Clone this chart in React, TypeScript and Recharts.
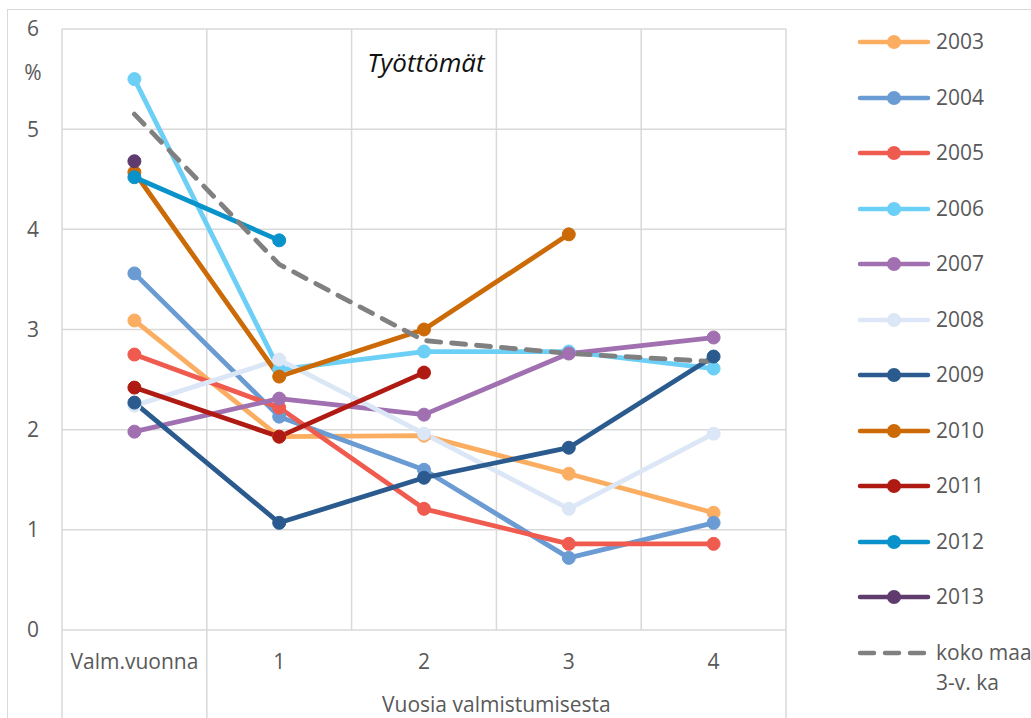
import React from "react";
import { LineChart, Line, XAxis, YAxis, CartesianGrid, Legend } from "recharts";

const categories = ["Valm.vuonna", "1", "2", "3", "4"];
const yTicks = [0, 1, 2, 3, 4, 5, 6];
const years = ["2003", "2004", "2005", "2006", "2007", "2008", "2009", "2010", "2011", "2012", "2013"];

// työttömien osuus (%) vuosittain, valmistumisvuoden mukaan
const v2003 = [3.09, 1.93, 1.94, 1.56, 1.17];
const v2004 = [3.56, 2.13, 1.6, 0.72, 1.07];
const v2005 = [2.75, 2.22, 1.21, 0.86, 0.86];
const v2006 = [5.5, 2.6, 2.78, 2.78, 2.61];
const v2007 = [1.98, 2.31, 2.15, 2.76, 2.92];
const v2008 = [2.24, 2.7, 1.96, 1.21, 1.96];
const v2009 = [2.27, 1.07, 1.52, 1.82, 2.73];
const v2010 = [4.57, 2.53, 3.0, 3.95, null];
const v2011 = [2.42, 1.93, 2.57, null, null];
const v2012 = [4.52, 3.89, null, null, null];
const v2013 = [4.68, null, null, null, null];
const kokoMaa = [5.15, 3.65, 2.89, 2.76, 2.68];

const yearValues = [v2003, v2004, v2005, v2006, v2007, v2008, v2009, v2010, v2011, v2012, v2013];
const colors = [
  "#FBAE61", "#6A9BD3", "#F05B4F", "#6CCFF6", "#A070B0", "#DBE6F6",
  "#2B5B8E", "#CB6A06", "#AF1A12", "#0A93CB", "#5F3B6E",
];

const W = 1031;
const H = 718;
const MARGIN = { top: 29, right: 245, bottom: 0, left: 0 };
const Y_AXIS_W = 62;
const X_AXIS_H = 88;
const FONT = "'Open Sans', 'DejaVu Sans', sans-serif";
const TEXT = "#595959";
const GRID = "#d9d9d9";

const series = years.map((y, i) => ({ key: "y" + y, name: y, color: colors[i], values: yearValues[i] }));

const rows = categories.map((c, i) => {
  const row: Record<string, any> = { pos: i + 0.5, label: c, koko: kokoMaa[i] };
  series.forEach((s) => {
    row[s.key] = s.values[i];
  });
  return row;
});

const xTicks = [...categories.map((_, i) => i), categories.length];
const band = (W - MARGIN.right - MARGIN.left - Y_AXIS_W) / categories.length;

function XTick(props: any) {
  const { x, y, payload } = props;
  const v = payload.value as number;
  const long = v === 0 || v === 1 || v === categories.length;
  return (
    <g>
      {long && <line x1={x} x2={x} y1={y} y2={y + X_AXIS_H} stroke={GRID} strokeWidth={1.5} />}
      {v < categories.length && (
        <text x={x + band / 2} y={y + 31} textAnchor="middle" dominantBaseline="central" fill={TEXT} fontSize={21} fontFamily={FONT}>
          {categories[v]}
        </text>
      )}
      {v === 1 && (
        <text x={x + band * 2} y={y + 74} textAnchor="middle" dominantBaseline="central" fill={TEXT} fontSize={21} fontFamily={FONT}>
          Vuosia valmistumisesta
        </text>
      )}
    </g>
  );
}

function LegendBox() {
  const items = [
    ...series.map((s) => ({ name: s.name, color: s.color, dashed: false })),
    { name: "koko maa", color: "#808080", dashed: true },
  ];
  return (
    <div style={{ fontFamily: FONT }}>
      {items.map((it) => (
        <div key={it.name} style={{ display: "flex", alignItems: "flex-start", height: 55.5 }}>
          <svg width={76} height={56} style={{ flex: "none" }}>
            {it.dashed ? (
              <line x1={4} x2={72} y1={28} y2={28} stroke={it.color} strokeWidth={4.5} strokeLinecap="round" strokeDasharray="14 11" />
            ) : (
              <>
                <line x1={4} x2={72} y1={28} y2={28} stroke={it.color} strokeWidth={4.5} strokeLinecap="round" />
                <circle cx={38} cy={28} r={7} fill={it.color} />
              </>
            )}
          </svg>
          <div style={{ marginLeft: 4, marginTop: 12, fontSize: 21, lineHeight: "30px", color: TEXT, whiteSpace: "nowrap" }}>
            {it.name}
            {it.dashed && <div>3-v. ka</div>}
          </div>
        </div>
      ))}
    </div>
  );
}

export default function App() {
  return (
    <div style={{ position: "absolute", left: 0, top: 0, width: W, height: H, overflow: "hidden", background: "#fff" }}>
      <div style={{ position: "absolute", left: 7, top: 9, width: W, height: H, border: `1px solid ${GRID}` }} />
      <LineChart width={W} height={H} data={rows} margin={MARGIN}>
        <CartesianGrid stroke={GRID} strokeWidth={1.5} />
        <XAxis
          dataKey="pos"
          type="number"
          domain={[0, categories.length]}
          ticks={xTicks}
          interval={0}
          height={X_AXIS_H}
          tickLine={false}
          axisLine={false}
          tickSize={0}
          tickMargin={0}
          tick={(p: any) => <XTick {...p} />}
        />
        <YAxis
          domain={[0, 6]}
          ticks={yTicks}
          interval={0}
          width={Y_AXIS_W}
          tickLine={false}
          axisLine={false}
          tickSize={0}
          tickMargin={29}
          tick={{ fill: TEXT, fontSize: 21, fontFamily: FONT, textAnchor: "middle" }}
        />
        {series.map((s) => (
          <Line
            key={s.key}
            type="linear"
            dataKey={s.key}
            name={s.name}
            stroke={s.color}
            strokeWidth={4.8}
            strokeLinejoin="round"
            dot={{ r: 6.5, fill: s.color, stroke: s.color, strokeWidth: 1 }}
            activeDot={false}
            isAnimationActive={false}
          />
        ))}
        <Line
          type="linear"
          dataKey="koko"
          name="koko maa 3-v. ka"
          stroke="#808080"
          strokeWidth={4.8}
          strokeDasharray="14 11"
          strokeLinecap="round"
          dot={false}
          activeDot={false}
          isAnimationActive={false}
        />
        <Legend
          layout="vertical"
          align="center"
          verticalAlign="middle"
          content={() => <LegendBox />}
          wrapperStyle={{ left: 856, top: 14, width: 175 }}
        />
      </LineChart>
      <div style={{ position: "absolute", left: 326, top: 45, width: 200, textAlign: "center", fontFamily: FONT, fontStyle: "italic", fontSize: 26, lineHeight: "34px", color: "#111" }}>
        Työttömät
      </div>
      <div style={{ position: "absolute", left: 13, top: 57, width: 40, textAlign: "center", fontFamily: FONT, fontSize: 21, lineHeight: "30px", color: TEXT }}>
        %
      </div>
    </div>
  );
}
